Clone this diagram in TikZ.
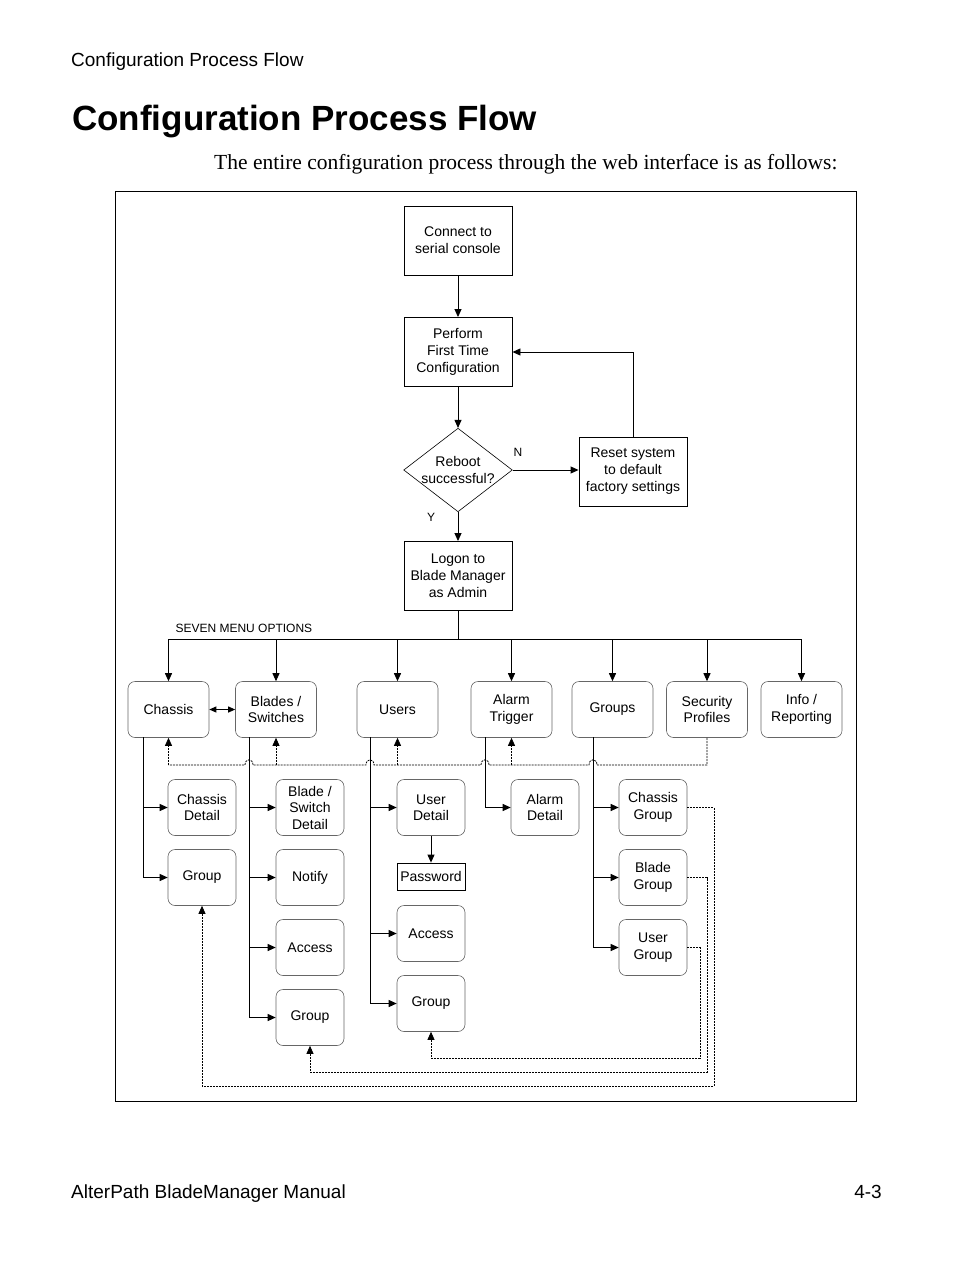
\documentclass[tikz,border=0pt]{standalone}
\usepackage{fontspec}
\setmainfont{Liberation Sans}
\newfontfamily\serif{Liberation Serif}
\usetikzlibrary{shapes.geometric,arrows.meta}
\begin{document}
\begin{tikzpicture}[x=1pt,y=-1pt,
  sq/.style={draw,line width=0.9pt,minimum width=108pt,minimum height=69pt,align=center,font=\fontsize{14}{17}\selectfont},
  rb/.style={draw,line width=0.6pt,gray!80!black,text=black,rounded corners=7pt,minimum width=81pt,minimum height=56pt,align=center,font=\fontsize{14}{16.5}\selectfont},
  sb/.style={rb,minimum width=68pt},
  ln/.style={line width=0.9pt},
  ar/.style={ln,-{Triangle[length=8pt,width=7pt]}},
  dl/.style={line width=0.8pt,dash pattern=on 2pt off 1pt},
  da/.style={dl,-{Triangle[length=8pt,width=7pt]}},
  pt/.style={inner sep=0pt}]
\useasboundingbox (0,0) rectangle (954,1272);
\node[pt,anchor=base west,font=\fontsize{19}{22}\selectfont] (hdr) at (71,66) {Configuration Process Flow};
\node[pt,anchor=base west,font=\fontsize{35}{40}\bfseries] (title) at (72,130) {Configuration Process Flow};
\node[pt,anchor=base west,font=\serif\fontsize{21.5}{24}\selectfont] (intro) at (214,169) {The entire configuration process through the web interface is as follows:};
\node[pt,anchor=base west,font=\fontsize{19}{22}\selectfont] (foot) at (71,1198) {AlterPath BladeManager Manual};
\node[pt,anchor=base east,font=\fontsize{19}{22}\selectfont] (pg) at (882,1198) {4-3};
\draw[line width=0.9pt] (115,191) rectangle (856,1101);

\node[sq] (con) at (458,240.5) {Connect to\\serial console};
\node[sq] (perf) at (458,352) {Perform\\First Time\\Configuration};
\node[draw,line width=0.6pt,diamond,minimum width=108pt,minimum height=82pt,inner sep=0pt,align=center,font=\fontsize{14}{17}\selectfont,aspect=1.3] (dia) at (458,470) {Reboot\\successful?};
\node[sq] (rst) at (633,471.5) {Reset system\\to default\\factory settings};
\node[sq] (log) at (458,576) {Logon to\\Blade Manager\\as Admin};
\draw[ar] (con) -- (perf);
\draw[ar] (perf) -- (dia);
\draw[ar] (dia.east) -- (rst.west |- dia.east);
\draw[ar] (dia) -- (log);
\draw[ar] (rst.north) |- (perf.east);
\node[font=\fontsize{12}{14}\selectfont] (n) at (518,452) {N};
\node[font=\fontsize{12}{14}\selectfont] (y) at (431,517) {Y};
\node[anchor=west,font=\fontsize{12}{14}\selectfont] (smo) at (172,628) {SEVEN MENU OPTIONS};

\node[rb] (ch) at (168.5,709.5) {Chassis};
\node[rb] (bl) at (276,709.5) {Blades /\\Switches};
\node[rb] (us) at (397.5,709.5) {Users};
\node[rb] (al) at (511.5,709.5) {Alarm\\Trigger};
\node[rb] (gr) at (612.5,709.5) {Groups};
\node[rb] (se) at (707,709.5) {Security\\Profiles};
\node[rb] (in) at (801.5,709.5) {Info /\\Reporting};

\coordinate (bus) at (458,639);
\draw[ln] (log.south) -- (bus);
\draw[ln] (168.5,639) -- (801.5,639);
\foreach \n in {ch,bl,us,al,gr,se,in} \draw[ar] (\n.north |- bus) -- (\n.north);
\draw[ln,{Triangle[length=7pt,width=6pt]}-{Triangle[length=7pt,width=6pt]}] (ch) -- (bl);

\node[sb] (chd) at (202,807.5) {Chassis\\Detail};
\node[sb] (chg) at (202,877.5) {Group};
\node[sb] (bld) at (310,807.5) {Blade /\\Switch\\Detail};
\node[sb] (bln) at (310,877.5) {Notify};
\node[sb] (bla) at (310,947.5) {Access};
\node[sb] (blg) at (310,1017.5) {Group};
\node[sb] (usd) at (431,807.5) {User\\Detail};
\node[draw,line width=0.8pt,minimum width=68pt,minimum height=27pt,font=\fontsize{14}{17}\selectfont] (pw) at (431,876.5) {Password};
\node[sb] (usa) at (431,933.5) {Access};
\node[sb] (usg) at (431,1003.5) {Group};
\node[sb] (ald) at (545,807.5) {Alarm\\Detail};
\node[sb] (gcg) at (653,807.5) {Chassis\\Group};
\node[sb] (gbg) at (653,877.5) {Blade\\Group};
\node[sb] (gug) at (653,947.5) {User\\Group};

\draw[ln] (143,737) -- (143,877.5);
\draw[ar] (143,807.5) -- (chd); \draw[ar] (143,877.5) -- (chg);
\draw[ln] (249,737) -- (249,1017.5);
\foreach \n in {bld,bln,bla,blg} \draw[ar] (249,0 |- \n.west) -- (\n.west);
\draw[ln] (370,737) -- (370,1003.5);
\foreach \n in {usd,usa,usg} \draw[ar] (370,0 |- \n.west) -- (\n.west);
\draw[ar] (usd) -- (pw);
\draw[ln] (485,737) -- (485,807.5);
\draw[ar] (485,807.5) -- (ald);
\draw[ln] (593,737) -- (593,947.5);
\foreach \n in {gcg,gbg,gug} \draw[ar] (593,0 |- \n.west) -- (\n.west);

% dashed return bus with hops
\draw[dl] (se.south) -- (707,765) -- (597,765) .. controls (597,758) and (589,758) .. (589,765)
  -- (489,765) .. controls (489,758) and (481,758) .. (481,765)
  -- (374,765) .. controls (374,758) and (366,758) .. (366,765)
  -- (253,765) .. controls (253,758) and (245,758) .. (245,765)
  -- (168.5,765);
\draw[da] (168.5,765) -- (ch.south);
\draw[da] (276,765) -- (bl.south);
\draw[da] (397.5,765) -- (us.south);
\draw[da] (511.5,765) -- (al.south);

\draw[da] (gcg.east) -- (714,807.5) -- (714,1086) -- (202,1086) -- (chg.south);
\draw[da] (gbg.east) -- (707,877.5) -- (707,1072) -- (310,1072) -- (blg.south);
\draw[da] (gug.east) -- (700,947.5) -- (700,1058) -- (431,1058) -- (usg.south);
\end{tikzpicture}
\end{document}
